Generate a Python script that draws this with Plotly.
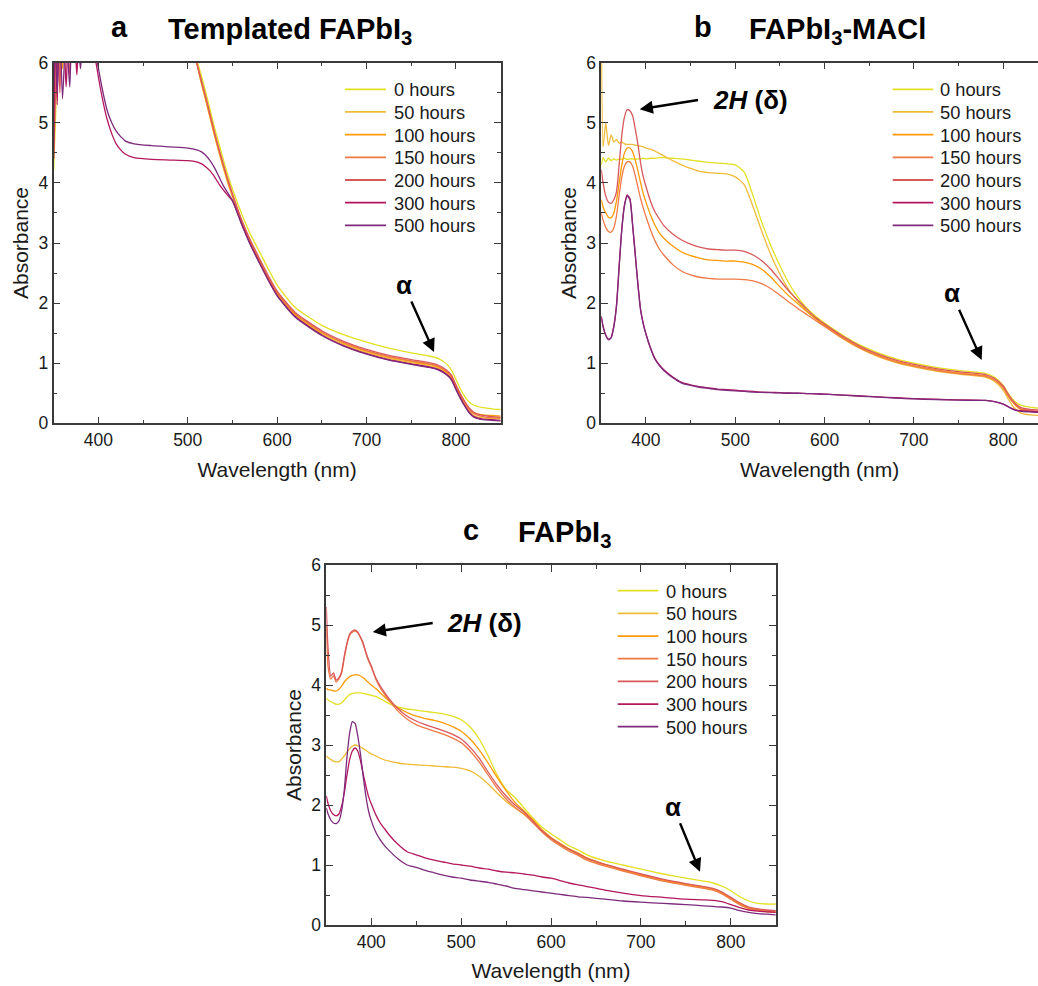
import plotly.graph_objects as go

W, H = 1038, 986

names = ["0 hours", "50 hours", "100 hours", "150 hours", "200 hours", "300 hours", "500 hours"]
colors = ["#e3e022", "#efbb38", "#ff9a05", "#ef7a46", "#d8585b", "#b3175e", "#7e2a7c"]

# ---------------- Panel a: Templated FAPbI3 ----------------
wl_a = [350, 352, 354, 357, 360, 364, 368, 372, 376, 380, 385, 390, 395, 398, 402, 406, 410, 415, 420, 425,
        430, 440, 460, 480, 500, 510, 515, 520, 525, 530, 535, 540, 545, 550, 560, 570, 580, 590, 600, 620,
        650, 675, 700, 725, 750, 770, 780, 790, 795, 800, 805, 810, 815, 820, 830, 840, 850]
a_0h = [4.2, 5.0, 5.9, 6.6, 6.6, 6.6, 6.6, 6.6, 6.6, 6.6, 6.6, 6.6, 6.6, 6.6, 6.6, 6.6, 6.6, 6.6, 6.6, 6.6,
        6.6, 6.6, 6.6, 6.6, 6.6, 6.05, 5.8, 5.52, 5.22, 4.92, 4.65, 4.38, 4.12, 3.9, 3.5, 3.15, 2.86, 2.57, 2.3, 1.93,
        1.63, 1.47, 1.35, 1.25, 1.17, 1.12, 1.08, 0.98, 0.88, 0.73, 0.57, 0.44, 0.35, 0.3, 0.26, 0.24, 0.23]
a_50h = [5.3, 6.6, 6.6, 6.6, 6.6, 6.6, 6.6, 6.6, 6.6, 6.6, 6.6, 6.6, 6.6, 6.6, 6.6, 6.6, 6.6, 6.6, 6.6, 6.6,
         6.6, 6.6, 6.6, 6.6, 6.6, 6.0, 5.67, 5.38, 5.08, 4.78, 4.5, 4.24, 3.99, 3.77, 3.35, 3.0, 2.7, 2.41, 2.15, 1.8,
         1.49, 1.31, 1.18, 1.08, 1.01, 0.96, 0.92, 0.83, 0.75, 0.59, 0.44, 0.31, 0.2, 0.13, 0.09, 0.08, 0.08]
a_100h = [4.9, 6.1, 6.6, 6.6, 5.9, 6.6, 6.6, 6.6, 6.6, 6.6, 6.6, 6.6, 6.6, 6.6, 6.6, 6.6, 6.6, 6.6, 6.6, 6.6,
          6.6, 6.6, 6.6, 6.6, 6.6, 6.0, 5.69, 5.4, 5.1, 4.8, 4.52, 4.26, 4.01, 3.79, 3.37, 3.02, 2.72, 2.43, 2.17, 1.82,
          1.51, 1.33, 1.2, 1.1, 1.03, 0.98, 0.94, 0.85, 0.77, 0.61, 0.46, 0.34, 0.24, 0.18, 0.14, 0.13, 0.12]
a_150h = [5.5, 6.6, 6.6, 5.6, 6.6, 6.6, 6.6, 6.6, 6.6, 6.6, 6.6, 6.6, 6.6, 6.6, 6.6, 6.6, 6.6, 6.6, 6.6, 6.6,
          6.6, 6.6, 6.6, 6.6, 6.6, 6.0, 5.7, 5.42, 5.12, 4.82, 4.54, 4.28, 4.03, 3.8, 3.38, 3.03, 2.73, 2.44, 2.18, 1.83,
          1.52, 1.34, 1.21, 1.11, 1.04, 0.99, 0.95, 0.86, 0.78, 0.62, 0.47, 0.34, 0.23, 0.16, 0.11, 0.09, 0.09]
a_200h = [4.4, 5.4, 6.6, 5.5, 6.6, 6.6, 5.8, 6.6, 6.6, 6.6, 6.6, 6.6, 6.6, 6.6, 6.6, 6.6, 6.6, 6.6, 6.6, 6.6,
          6.6, 6.6, 6.6, 6.6, 6.6, 6.0, 5.72, 5.44, 5.14, 4.84, 4.56, 4.3, 4.05, 3.82, 3.4, 3.05, 2.75, 2.46, 2.2, 1.85,
          1.54, 1.36, 1.23, 1.13, 1.06, 1.01, 0.97, 0.88, 0.8, 0.64, 0.49, 0.36, 0.25, 0.18, 0.13, 0.11, 0.1]
a_300h = [4.4, 6.6, 5.3, 6.6, 6.6, 5.6, 6.6, 6.6, 5.8, 6.6, 6.6, 6.6, 6.2, 5.95, 5.6, 5.3, 5.05, 4.82, 4.65, 4.55,
          4.48, 4.42, 4.39, 4.38, 4.37, 4.35, 4.32, 4.27, 4.2, 4.1, 3.98, 3.88, 3.79, 3.7, 3.33, 2.98, 2.68, 2.39, 2.13, 1.78,
          1.47, 1.29, 1.16, 1.06, 0.99, 0.94, 0.9, 0.81, 0.73, 0.57, 0.42, 0.29, 0.18, 0.11, 0.07, 0.06, 0.05]
a_500h = [5.6, 6.6, 5.5, 6.6, 5.4, 6.6, 5.6, 6.6, 6.6, 5.9, 6.6, 6.6, 6.6, 6.1, 5.75, 5.45, 5.2, 5.0, 4.86, 4.77,
          4.7, 4.65, 4.62, 4.6, 4.58, 4.55, 4.52, 4.46, 4.37, 4.25, 4.1, 3.95, 3.83, 3.71, 3.32, 2.97, 2.67, 2.38, 2.12, 1.77,
          1.46, 1.28, 1.15, 1.05, 0.98, 0.93, 0.89, 0.8, 0.72, 0.56, 0.41, 0.28, 0.17, 0.1, 0.06, 0.05, 0.04]

# ---------------- Panel b: FAPbI3-MACl ----------------
wl_b = [350, 352, 355, 358, 361, 364, 367, 370, 373, 376, 379, 382, 385, 388, 391, 394, 397, 400, 405, 410,
        415, 420, 430, 440, 450, 460, 470, 480, 490, 500, 510, 520, 530, 540, 550, 560, 570, 580, 590, 600,
        620, 640, 660, 680, 700, 725, 750, 770, 780, 790, 800, 805, 810, 815, 820, 830, 840, 850]
b_0h = [4.3, 4.42, 4.35, 4.41, 4.37, 4.4, 4.38, 4.4, 4.39, 4.41, 4.39, 4.4, 4.4, 4.39, 4.4, 4.4, 4.41, 4.4, 4.41, 4.41,
        4.42, 4.42, 4.41, 4.4, 4.38, 4.36, 4.34, 4.33, 4.32, 4.3, 4.18, 3.78, 3.33, 2.95, 2.62, 2.33, 2.1, 1.92, 1.78, 1.67,
        1.47, 1.3, 1.17, 1.07, 1.0, 0.93, 0.88, 0.85, 0.83, 0.77, 0.63, 0.51, 0.41, 0.34, 0.3, 0.27, 0.25, 0.24]
b_50h = [6.6, 4.6, 5.0, 4.62, 4.8, 4.68, 4.72, 4.66, 4.68, 4.65, 4.64, 4.64, 4.64, 4.63, 4.62, 4.61, 4.6, 4.58, 4.56, 4.53,
         4.49, 4.45, 4.37, 4.3, 4.24, 4.19, 4.17, 4.16, 4.15, 4.1, 3.97, 3.6, 3.18, 2.8, 2.48, 2.22, 2.03, 1.87, 1.74, 1.62,
         1.41, 1.24, 1.11, 1.01, 0.94, 0.87, 0.82, 0.79, 0.77, 0.7, 0.55, 0.42, 0.3, 0.22, 0.17, 0.14, 0.13, 0.13]
b_100h = [3.72, 3.6, 3.5, 3.43, 3.42, 3.5, 3.7, 4.0, 4.3, 4.5, 4.58, 4.58, 4.52, 4.38, 4.2, 4.0, 3.82, 3.68, 3.47, 3.3,
          3.17, 3.08, 2.95, 2.85, 2.79, 2.75, 2.72, 2.71, 2.7, 2.7, 2.68, 2.64, 2.56, 2.43, 2.27, 2.12, 1.99, 1.86, 1.74, 1.63,
          1.43, 1.26, 1.13, 1.03, 0.96, 0.89, 0.84, 0.81, 0.79, 0.73, 0.59, 0.47, 0.36, 0.28, 0.23, 0.2, 0.19, 0.19]
b_150h = [3.5, 3.38, 3.26, 3.19, 3.18, 3.25, 3.45, 3.8, 4.1, 4.28, 4.35, 4.35, 4.28, 4.12, 3.93, 3.74, 3.58, 3.44, 3.22, 3.04,
          2.9, 2.8, 2.64, 2.53, 2.47, 2.43, 2.41, 2.4, 2.4, 2.4, 2.39, 2.37, 2.32, 2.24, 2.13, 2.02, 1.91, 1.81, 1.71, 1.61,
          1.42, 1.25, 1.12, 1.02, 0.95, 0.88, 0.83, 0.8, 0.78, 0.72, 0.59, 0.47, 0.37, 0.29, 0.24, 0.21, 0.2, 0.2]
b_200h = [4.22, 4.0, 3.78, 3.68, 3.66, 3.72, 3.85, 4.3, 4.8, 5.1, 5.22, 5.2, 5.12, 4.9, 4.64, 4.33, 4.1, 3.94, 3.7, 3.52,
          3.4, 3.29, 3.15, 3.05, 2.98, 2.93, 2.9, 2.89, 2.88, 2.88, 2.86, 2.8, 2.7, 2.56, 2.38, 2.2, 2.05, 1.9, 1.76, 1.65,
          1.45, 1.28, 1.15, 1.05, 0.98, 0.91, 0.86, 0.83, 0.81, 0.75, 0.62, 0.5, 0.39, 0.31, 0.26, 0.23, 0.22, 0.21]
b_300h = [1.78, 1.62, 1.47, 1.4, 1.43, 1.62, 1.97, 2.62, 3.25, 3.64, 3.8, 3.74, 3.32, 2.82, 2.32, 1.9, 1.66, 1.49, 1.26, 1.08,
          0.97, 0.89, 0.77, 0.68, 0.64, 0.61, 0.59, 0.57, 0.56, 0.55, 0.54, 0.53, 0.52, 0.515, 0.51, 0.505, 0.5, 0.495, 0.49, 0.485,
          0.47, 0.455, 0.44, 0.425, 0.41, 0.4, 0.39, 0.385, 0.38, 0.36, 0.32, 0.28, 0.245, 0.22, 0.21, 0.2, 0.19, 0.19]
b_500h = [1.76, 1.6, 1.46, 1.39, 1.42, 1.6, 1.94, 2.6, 3.22, 3.62, 3.78, 3.72, 3.3, 2.8, 2.3, 1.88, 1.65, 1.48, 1.25, 1.07,
          0.96, 0.88, 0.76, 0.67, 0.63, 0.6, 0.58, 0.56, 0.55, 0.54, 0.53, 0.52, 0.515, 0.51, 0.505, 0.5, 0.5, 0.495, 0.49, 0.485,
          0.47, 0.45, 0.435, 0.42, 0.405, 0.395, 0.385, 0.38, 0.38, 0.36, 0.32, 0.28, 0.24, 0.21, 0.2, 0.19, 0.18, 0.18]

# ---------------- Panel c: FAPbI3 ----------------
wl_c = [350, 352, 355, 358, 361, 364, 367, 370, 373, 376, 379, 382, 385, 388, 391, 394, 397, 400, 405, 410,
        415, 420, 430, 440, 450, 460, 470, 480, 490, 500, 510, 520, 530, 540, 550, 560, 570, 580, 590, 600,
        610, 620, 630, 640, 660, 680, 700, 725, 750, 770, 780, 790, 800, 810, 820, 830, 840, 850]
c_0h = [3.78, 3.75, 3.72, 3.7, 3.68, 3.68, 3.7, 3.75, 3.8, 3.84, 3.86, 3.87, 3.87, 3.87, 3.86, 3.85, 3.84, 3.83, 3.81, 3.77,
        3.73, 3.69, 3.63, 3.6, 3.58, 3.56, 3.54, 3.52, 3.48, 3.42, 3.3, 3.1, 2.82, 2.5, 2.26, 2.12, 1.95, 1.78, 1.63, 1.52,
        1.42, 1.32, 1.25, 1.17, 1.07, 1.0, 0.93, 0.85, 0.78, 0.73, 0.7, 0.65, 0.57, 0.47, 0.4, 0.36, 0.35, 0.35]
c_50h = [2.82, 2.79, 2.76, 2.73, 2.72, 2.72, 2.76, 2.82, 2.88, 2.94, 2.98, 3.0, 2.99, 2.97, 2.94, 2.91, 2.88, 2.85, 2.82, 2.78,
         2.75, 2.73, 2.7, 2.68, 2.67, 2.66, 2.65, 2.64, 2.63, 2.61, 2.57, 2.48, 2.35, 2.2, 2.06, 1.95, 1.84, 1.71, 1.56, 1.44,
         1.34, 1.25, 1.18, 1.1, 1.0, 0.91, 0.83, 0.74, 0.67, 0.62, 0.59, 0.53, 0.44, 0.34, 0.27, 0.24, 0.22, 0.21]
c_100h = [3.95, 3.92, 3.92, 3.9, 3.9, 3.93, 3.98, 4.05, 4.1, 4.14, 4.16, 4.17, 4.17, 4.15, 4.12, 4.08, 4.04, 4.0, 3.94, 3.87,
          3.8, 3.73, 3.62, 3.54, 3.48, 3.44, 3.41, 3.37, 3.31, 3.23, 3.1, 2.92, 2.7, 2.46, 2.24, 2.04, 1.9, 1.75, 1.59, 1.46,
          1.36, 1.27, 1.2, 1.12, 1.01, 0.92, 0.84, 0.75, 0.68, 0.63, 0.6, 0.54, 0.45, 0.36, 0.29, 0.26, 0.24, 0.23]
c_150h = [5.0, 4.3, 4.1, 4.15, 4.05, 4.1, 4.2, 4.45, 4.68, 4.83, 4.88, 4.9, 4.87, 4.79, 4.68, 4.53, 4.4, 4.3, 4.1, 3.95,
          3.84, 3.74, 3.56, 3.43, 3.34, 3.28, 3.23, 3.18, 3.12, 3.04, 2.9, 2.72, 2.5, 2.28, 2.1, 1.96, 1.85, 1.7, 1.55, 1.42,
          1.32, 1.23, 1.16, 1.08, 0.98, 0.9, 0.82, 0.73, 0.66, 0.61, 0.58, 0.52, 0.43, 0.34, 0.28, 0.25, 0.23, 0.22]
c_200h = [5.3, 4.6, 4.15, 4.2, 4.08, 4.12, 4.22, 4.48, 4.7, 4.85, 4.9, 4.92, 4.88, 4.8, 4.7, 4.55, 4.42, 4.32, 4.12, 3.98,
          3.87, 3.77, 3.6, 3.48, 3.4, 3.34, 3.29, 3.24, 3.18, 3.1, 2.96, 2.78, 2.55, 2.33, 2.15, 2.0, 1.88, 1.73, 1.57, 1.45,
          1.35, 1.26, 1.19, 1.11, 1.01, 0.93, 0.85, 0.76, 0.69, 0.64, 0.61, 0.55, 0.46, 0.37, 0.3, 0.27, 0.25, 0.24]
c_300h = [2.15, 2.02, 1.9, 1.84, 1.82, 1.85, 1.98, 2.2, 2.5, 2.76, 2.9, 2.95, 2.9, 2.74, 2.52, 2.32, 2.14, 2.02, 1.84, 1.7,
          1.6, 1.5, 1.34, 1.22, 1.17, 1.12, 1.08, 1.05, 1.02, 1.0, 0.98, 0.95, 0.93, 0.9, 0.88, 0.87, 0.85, 0.83, 0.8, 0.78,
          0.74, 0.7, 0.67, 0.64, 0.58, 0.53, 0.49, 0.46, 0.43, 0.42, 0.41, 0.39, 0.34, 0.29, 0.25, 0.23, 0.22, 0.21]
c_500h = [1.95, 1.85, 1.75, 1.7, 1.69, 1.73, 1.9, 2.25, 2.8, 3.2, 3.39, 3.36, 3.15, 2.85, 2.48, 2.15, 1.9, 1.74, 1.55, 1.42,
          1.32, 1.24, 1.1, 1.0, 0.96, 0.91, 0.87, 0.83, 0.8, 0.78, 0.75, 0.73, 0.71, 0.68, 0.65, 0.61, 0.59, 0.57, 0.55, 0.53,
          0.51, 0.49, 0.47, 0.46, 0.43, 0.4, 0.38, 0.36, 0.34, 0.32, 0.31, 0.3, 0.28, 0.24, 0.21, 0.19, 0.18, 0.17]

panels = [
    ("x", "y", wl_a, [a_0h, a_50h, a_100h, a_150h, a_200h, a_300h, a_500h]),
    ("x2", "y2", wl_b, [b_0h, b_50h, b_100h, b_150h, b_200h, b_300h, b_500h]),
    ("x3", "y3", wl_c, [c_0h, c_50h, c_100h, c_150h, c_200h, c_300h, c_500h]),
]

FONT = "Arial, Liberation Sans, Helvetica, sans-serif"
TXT = "#1a1a1a"

fig = go.Figure()
for xa, ya, wl, series in panels:
    for name, col, vals in zip(names, colors, series):
        fig.add_trace(go.Scatter(
            x=wl, y=vals, name=name, mode="lines", xaxis=xa, yaxis=ya, showlegend=False,
            line=dict(color=col, width=1.3, shape="spline", smoothing=0.6),
        ))


def fx(px):
    return px / W


def fy(py):
    return 1 - py / H


axis_common = dict(
    showline=True, linecolor="#3a3a3a", linewidth=1.5, mirror="ticks",
    ticks="inside", ticklen=7, tickwidth=1.3, tickcolor="#3a3a3a",
    showgrid=False, zeroline=False, automargin=False,
    tickfont=dict(family=FONT, size=17.5, color=TXT),
)
xcommon = dict(axis_common, dtick=100, tick0=0,
               minor=dict(ticks="inside", ticklen=4, dtick=50, tick0=0, tickcolor="#3a3a3a", tickwidth=1.1),
               title=dict(text="Wavelength (nm)", font=dict(family=FONT, size=21, color=TXT), standoff=13))
ycommon = dict(axis_common, dtick=1, tick0=0, range=[0, 6],
               minor=dict(ticks="inside", ticklen=4, dtick=0.5, tick0=0, tickcolor="#3a3a3a", tickwidth=1.1),
               title=dict(text="Absorbance", font=dict(family=FONT, size=21, color=TXT), standoff=4))

fig.update_layout(
    width=W, height=H, margin=dict(l=0, r=0, t=0, b=0, autoexpand=False),
    paper_bgcolor="white", plot_bgcolor="white",
    font=dict(family=FONT, color=TXT),
    showlegend=False,
    xaxis=dict(xcommon, domain=[fx(53.6), fx(500.7)], range=[350, 850], anchor="y"),
    yaxis=dict(ycommon, domain=[fy(423.3), fy(62.7)], anchor="x"),
    xaxis2=dict(xcommon, domain=[fx(601.3), 1.0], range=[350, 838.9], anchor="y2"),
    yaxis2=dict(ycommon, domain=[fy(423.3), fy(62.7)], anchor="x2", mirror=False),
    xaxis3=dict(xcommon, domain=[fx(326.3), fx(775.8)], range=[350, 850], anchor="y3"),
    yaxis3=dict(ycommon, domain=[fy(925), fy(565)], anchor="x3"),
)

ann = []
shapes = []

# legend keys (line + label) for each panel
for (lx0, lx1, tx, y0) in [(345, 386, 391.5, 89.3), (892.7, 933.3, 938.3, 89.3), (617.7, 658.3, 664, 590.7)]:
    for i, (name, col) in enumerate(zip(names, colors)):
        yy = y0 + i * 22.67
        shapes.append(dict(type="line", xref="paper", yref="paper", x0=fx(lx0), x1=fx(lx1),
                           y0=fy(yy), y1=fy(yy), line=dict(color=col, width=1.8)))
        ann.append(dict(text=name, x=fx(tx), y=fy(yy + 0.5), xref="paper", yref="paper",
                        xanchor="left", yanchor="middle", showarrow=False,
                        font=dict(family=FONT, size=18.3, color=TXT)))

# panel titles
for lab, cx, tx, ty, title in [("a", 119, 166, 27, "Templated FAPbI<sub>3</sub>"),
                               ("b", 702.5, 747, 27, "FAPbI<sub>3</sub>-MACl"),
                               ("c", 471, 516, 530, "FAPbI<sub>3</sub>")]:
    ann.append(dict(text="<b>%s</b>" % lab, x=fx(cx), y=fy(ty), xref="paper", yref="paper",
                    xanchor="center", yanchor="middle", showarrow=False,
                    font=dict(family=FONT, size=29, color="black")))
    ann.append(dict(text="<b>%s</b>" % title, x=fx(tx), y=fy(ty + 4), xref="paper", yref="paper",
                    xanchor="left", yanchor="middle", showarrow=False,
                    font=dict(family=FONT, size=29, color="black")))

# alpha labels with arrows (text centre -> arrow head)
for (tx, ty, hx, hy) in [(404, 285, 434, 352), (951.7, 293.3, 981.7, 360), (673.3, 806.7, 700, 871.7)]:
    ann.append(dict(text="<b>α</b>", x=fx(hx), y=fy(hy), xref="paper", yref="paper",
                    ax=tx - hx, ay=ty - hy, axref="pixel", ayref="pixel",
                    xanchor="center", yanchor="middle",
                    showarrow=True, arrowhead=2, arrowsize=1.1, arrowwidth=2.4, arrowcolor="black", standoff=0,
                    font=dict(family=FONT, size=26, color="black")))

# 2H (delta) labels with arrows (tail at left edge of the label box)
for (tlx, tly, hx, hy, pad) in [(698, 100, 639.7, 109.3, 14), (432.7, 623, 372.7, 632, 13)]:
    ann.append(dict(text="<b><i>2H</i> (δ)</b>", x=fx(hx), y=fy(hy), xref="paper", yref="paper",
                    ax=tlx - hx, ay=tly - hy, axref="pixel", ayref="pixel",
                    xanchor="left", yanchor="middle", borderpad=pad,
                    showarrow=True, arrowhead=2, arrowsize=1.1, arrowwidth=2.4, arrowcolor="black", standoff=0,
                    font=dict(family=FONT, size=26, color="black")))

fig.update_layout(annotations=ann, shapes=shapes)
fig.write_html("out.html")
